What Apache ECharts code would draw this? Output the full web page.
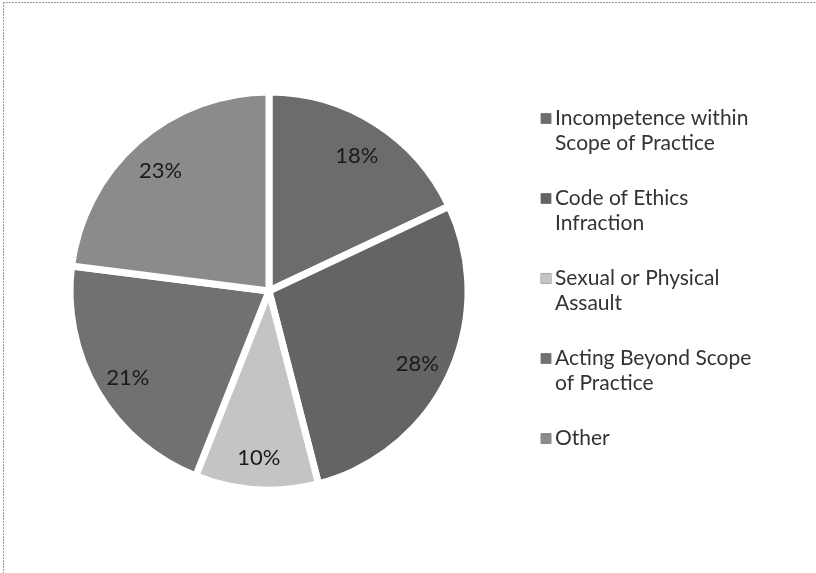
<!DOCTYPE html>
<html>
<head>
<meta charset="utf-8">
<script src="https://cdn.jsdelivr.net/npm/echarts@6/dist/echarts.min.js"></script>
<style>html,body{margin:0;padding:0;background:#fff}#c{width:816px;height:573px}</style>
</head>
<body>
<div id="c"></div>
<script>
const categories = [
  "Incompetence within\nScope of Practice",
  "Code of Ethics\nInfraction",
  "Sexual or Physical\nAssault",
  "Acting Beyond Scope\nof Practice",
  "Other"
];
const values = [18, 28, 10, 21, 23];
const colors = ["#6c6c6c", "#646464", "#c4c4c4", "#717171", "#8b8b8b"];

const CX = 269, CY = 291, R = 199;
const chart = echarts.init(document.getElementById('c'));

const FS = 21;
const rich = { t: { fontFamily: 'Lato', fontSize: FS, color: '#333', lineHeight: 25 },
               ind: { width: 14, height: 10 } };
colors.forEach((c, i) => {
  rich['m' + i] = { width: 10, height: 10, backgroundColor: c, borderColor: '#888', borderWidth: 0.5 };
  rich['g' + i] = { width: 4 };
});

chart.setOption({
  animation: false,
  color: colors,
  graphic: [
    { type: 'line', shape: { x1: 3, y1: 2.5, x2: 816, y2: 2.5 }, style: { stroke: '#9a9a9a', lineWidth: 1, lineDash: [2, 1] } },
    { type: 'line', shape: { x1: 3.5, y1: 2, x2: 3.5, y2: 573 }, style: { stroke: '#9a9a9a', lineWidth: 1, lineDash: [2, 1] } }
  ],
  legend: {
    orient: 'vertical',
    left: 531,
    top: 101,
    icon: 'none',
    itemWidth: 0,
    itemHeight: 10,
    itemGap: 30,
    selectedMode: false,
    data: categories,
    formatter: function (name) {
      const i = categories.indexOf(name);
      const lines = name.split('\n');
      return lines.map((l, k) => (k === 0 ? '{m' + i + '|}{g' + i + '|}' : '{ind|}') + '{t|' + l + '}').join('\n');
    },
    textStyle: { rich: rich, fontFamily: 'Lato', fontSize: FS, color: '#333', lineHeight: 25 }
  },
  series: [{
    type: 'pie',
    center: [CX, CY],
    radius: [0, R],
    startAngle: 90,
    clockwise: true,
    data: categories.map((n, i) => ({ name: n, value: values[i] })),
    itemStyle: { borderColor: '#fff', borderWidth: 7 },
    label: {
      position: 'inside',
      formatter: '{d}%',
      fontFamily: 'Lato',
      fontSize: 22,
      color: '#1a1a1a'
    },
    labelLayout: function (p) {
      const lx = p.labelRect.x + p.labelRect.width / 2;
      const ly = p.labelRect.y + p.labelRect.height / 2;
      const f = 1.6;
      return { x: CX + (lx - CX) * f, y: CY + (ly - CY) * f + 3 };
    },
    emphasis: { disabled: true }
  }]
});
</script>
</body>
</html>
